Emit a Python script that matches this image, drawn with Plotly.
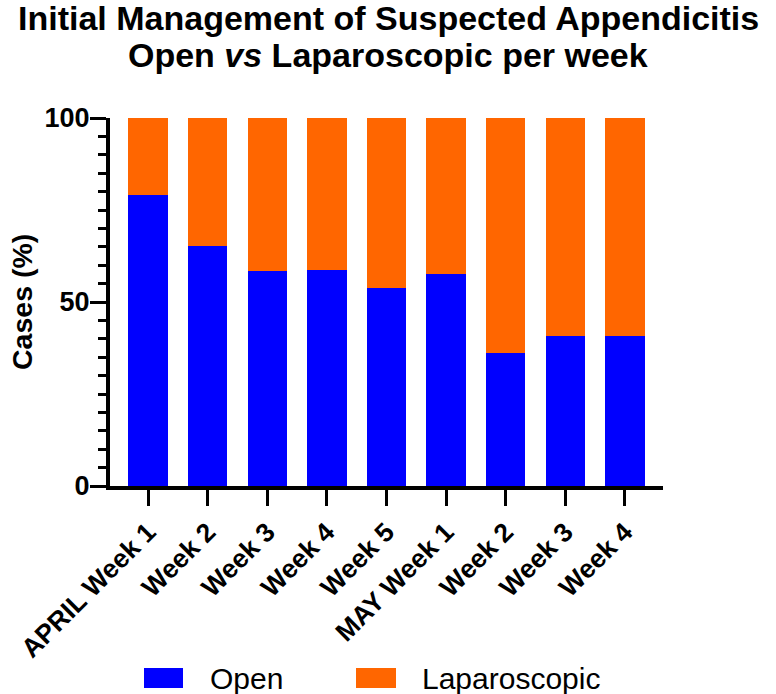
import plotly.graph_objects as go

week_labels = ["APRIL Week 1", "Week 2", "Week 3", "Week 4", "Week 5",
               "MAY Week 1", "Week 2", "Week 3", "Week 4"]
open_pct = [79.2, 65.3, 58.5, 58.7, 53.8, 57.7, 36.2, 40.7, 40.7]
lap_pct = [20.8, 34.7, 41.5, 41.3, 46.2, 42.3, 63.8, 59.3, 59.3]
series_names = ["Open", "Laparoscopic"]
series_colors = ["#0000FF", "#FF6600"]
y_ticks = [0, 50, 100]

FONT = "Arial, Liberation Sans, Helvetica, sans-serif"
x_pos = list(range(len(week_labels)))

fig = go.Figure()
for name, vals, col in zip(series_names, [open_pct, lap_pct], series_colors):
    fig.add_trace(go.Bar(x=x_pos, y=vals, name=name, marker=dict(color=col, line=dict(width=0)),
                         showlegend=False))

W, H = 776, 694
L, R, T, B = 110, 113, 118, 208
pw, ph = W - L - R, H - T - B

def px(xp):
    return (xp - L) / pw

def py(yp):
    return (H - B - yp) / ph

fig.update_layout(
    width=W, height=H,
    margin=dict(l=L, r=R, t=T, b=B),
    barmode="stack", bargap=0.34,
    plot_bgcolor="white", paper_bgcolor="white",
    font=dict(family=FONT, color="black"),
)
fig.update_xaxes(
    range=[-0.64, len(week_labels) - 1 + 0.64],
    tickvals=x_pos, ticktext=[f"<b>{t}</b>" for t in week_labels],
    tickangle=-45, tickfont=dict(size=26.5, family=FONT, color="black"),
    showline=True, linecolor="black", linewidth=4,
    ticks="outside", ticklen=16, tickwidth=3, tickcolor="black",
    showgrid=False, zeroline=False,
)
fig.update_yaxes(
    range=[0, 100], tickvals=y_ticks, ticktext=[f"<b>{v}</b>" for v in y_ticks],
    tickfont=dict(size=27, family=FONT, color="black"),
    ticklabelstandoff=-5,
    showline=True, linecolor="black", linewidth=4,
    ticks="outside", ticklen=16, tickwidth=3, tickcolor="black",
    minor=dict(dtick=5, ticks="outside", ticklen=8, tickwidth=3, tickcolor="black", showgrid=False),
    showgrid=False, zeroline=False,
)

# Titles
fig.add_annotation(text="<b>Initial Management of Suspected Appendicitis</b>",
                   xref="paper", yref="paper", x=px(388), y=py(18), xanchor="center", yanchor="middle",
                   showarrow=False, font=dict(size=34, family=FONT, color="black"))
fig.add_annotation(text="<b>Open <i>vs</i> Laparoscopic per week</b>",
                   xref="paper", yref="paper", x=px(388), y=py(55), xanchor="center", yanchor="middle",
                   showarrow=False, font=dict(size=34, family=FONT, color="black"))
fig.add_annotation(text="<b>Cases (%)</b>", textangle=-90,
                   xref="paper", yref="paper", x=px(22), y=0.5, xanchor="center", yanchor="middle",
                   showarrow=False, font=dict(size=28.5, family=FONT, color="black"))

# Legend
sw = [(144, 183), (356, 396)]
tx = [208, 420]
for (x0, x1), t, name, col in zip(sw, tx, series_names, series_colors):
    fig.add_shape(type="rect", xref="paper", yref="paper", x0=px(x0), x1=px(x1),
                  y0=py(688), y1=py(668), fillcolor=col, line=dict(width=0))
    fig.add_annotation(text=name, xref="paper", yref="paper", x=px(t), y=py(678),
                       xanchor="left", yanchor="middle", showarrow=False,
                       font=dict(size=30, family=FONT, color="black"))

fig.write_html("out.html", config={"displayModeBar": False},
               post_script="document.body.style.margin='0';document.body.style.overflow='hidden';")
